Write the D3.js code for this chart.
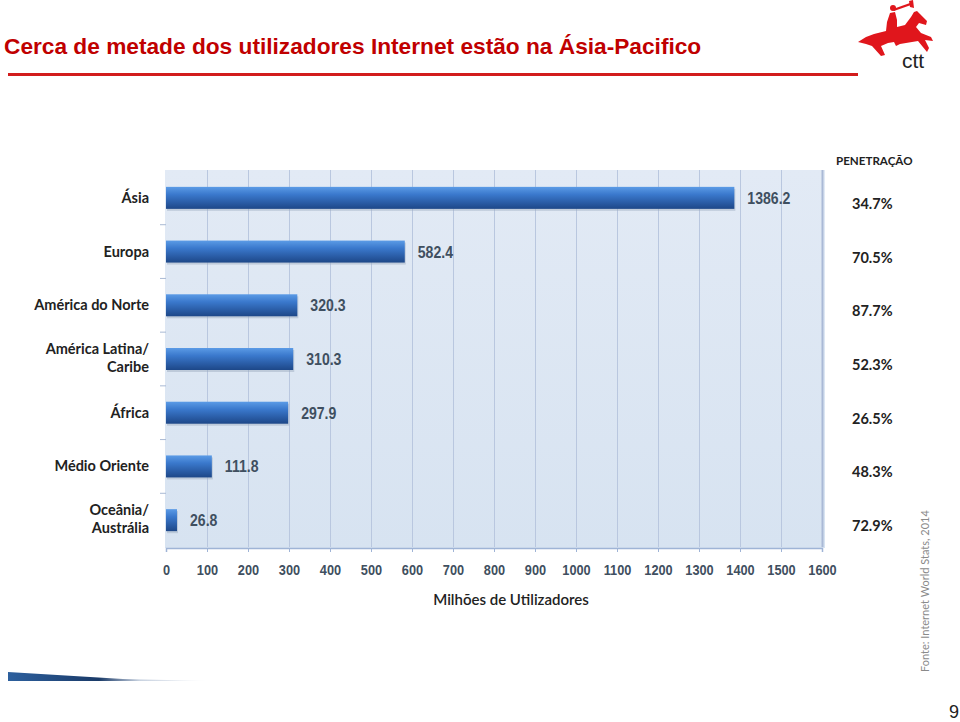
<!DOCTYPE html>
<html><head><meta charset="utf-8">
<script src="https://cdn.jsdelivr.net/npm/d3@7"></script>
<style>body{margin:0;background:#fff}svg{display:block}</style>
</head><body>
<svg id="c" width="960" height="722"></svg>
<script>
const categories = ["Ásia","Europa","América do Norte","América Latina/\nCaribe","África","Médio Oriente","Oceânia/\nAustrália"];
const users = [1386.2, 582.4, 320.3, 310.3, 297.9, 111.8, 26.8];
const penetration = ["34.7%","70.5%","87.7%","52.3%","26.5%","48.3%","72.9%"];
const xTicks = [0,100,200,300,400,500,600,700,800,900,1000,1100,1200,1300,1400,1500,1600];

(function(){
const svg = d3.select("#c");
const defs = svg.append("defs");
const g1 = defs.append("linearGradient").attr("id","bar").attr("x1",0).attr("y1",0).attr("x2",0).attr("y2",1);
g1.append("stop").attr("offset","0%").attr("stop-color","#5b9be6");
g1.append("stop").attr("offset","35%").attr("stop-color","#3a78cc");
g1.append("stop").attr("offset","100%").attr("stop-color","#1d4788");
const g2 = defs.append("linearGradient").attr("id","swoosh").attr("gradientUnits","userSpaceOnUse")
  .attr("x1",8).attr("y1",0).attr("x2",210).attr("y2",0);
g2.append("stop").attr("offset","0%").attr("stop-color","#2d609e");
g2.append("stop").attr("offset","45%").attr("stop-color","#1a3a68");
g2.append("stop").attr("offset","65%").attr("stop-color","#c8d2e0");
g2.append("stop").attr("offset","100%").attr("stop-color","#ffffff");
const g3 = defs.append("linearGradient").attr("id","bg").attr("x1",0).attr("y1",0).attr("x2",0).attr("y2",1);
g3.append("stop").attr("offset","0%").attr("stop-color","#e2eaf5");
g3.append("stop").attr("offset","100%").attr("stop-color","#d7e3f1");

// Title
svg.append("text").attr("x",4).attr("y",54).attr("fill","#c00000")
  .style("font-family","Liberation Sans, Arial, sans-serif").style("font-weight","bold").style("font-size","22.7px")
  .text("Cerca de metade dos utilizadores Internet estão na Ásia-Pacifico");
svg.append("rect").attr("x",8).attr("y",73).attr("width",850).attr("height",3).attr("fill","#d21c1c");

// Logo (simplified horse & rider)
const logo = svg.append("g").attr("fill","#e0161c");
logo.append("path").attr("d","M858,42 L866,37 L874,34 L886,31 L887,22 L890,13 L895,12 L897,20 L897,27 L905,25 L911,17 L914,12 L917,11 L920,14 L927,21 L926,25 L919,23 L916,27 L921,33 L931,37 L933,41 L925,40 L929,48 L927,52 L918,41 L912,42 L900,44 L896,46 L894,42 L888,43 L881,46 L885,55 L881,56 L872,46 L866,44 Z");
logo.append("circle").attr("cx",893).attr("cy",8).attr("r",3);
logo.append("path").attr("d","M893,9 L910,3 L911,5 L894,11 Z");
logo.append("path").attr("d","M909,1 L913,0 L914,8 L910,7 Z");
svg.append("text").attr("x",913).attr("y",68).attr("text-anchor","middle").attr("fill","#222")
  .style("font-family","Liberation Sans Narrow, Liberation Sans, Arial, sans-serif").style("font-size","21px").text("ctt");

// Chart
const pl = 166, pr = 822, pt = 171, pb = 547;
const x = d3.scaleLinear().domain([0,1600]).range([pl,pr]);
const y = d3.scaleBand().domain(categories).range([pt,pb]).paddingInner(0).paddingOuter(0);
const barH = 22;

svg.append("rect").attr("x",pl-1).attr("y",pt-1).attr("width",pr-pl+4).attr("height",pb-pt+2).attr("fill","url(#bg)");
svg.append("g").selectAll("line").data(xTicks.slice(1)).join("line")
  .attr("x1",d=>x(d)+0.5).attr("x2",d=>x(d)+0.5).attr("y1",pt-1).attr("y2",pb)
  .attr("stroke",d=>d===1600?"#aab9d6":"#b9c7df").attr("stroke-width",d=>d===1600?2:1);

// bottom axis
const xAxis = svg.append("g").attr("transform",`translate(0,${pb+1})`)
  .call(d3.axisBottom(x).tickValues(xTicks).tickSize(4).tickPadding(13).tickFormat(d3.format("d")));
xAxis.select(".domain").attr("stroke","#9fb4d6").attr("stroke-width",1.5);
xAxis.selectAll(".tick line").attr("stroke","#9fb4d6");
xAxis.selectAll("text").attr("fill","#3f4f60").attr("transform","scale(0.88,1)")
  .style("font-family","Liberation Sans, Arial, sans-serif").style("font-weight","bold").style("font-size","14.5px");

// left ticks at band boundaries
svg.append("g").selectAll("line").data(categories.slice(1)).join("line")
  .attr("x1",pl-6).attr("x2",pl).attr("y1",d=>y(d)).attr("y2",d=>y(d)).attr("stroke","#a9b9d4");

// bars
const bars = svg.append("g");
bars.selectAll("rect.sh").data(users).join("rect").attr("class","sh")
  .attr("x",pl+1).attr("y",(d,i)=>y(categories[i])+y.bandwidth()/2-barH/2+2).attr("height",barH)
  .attr("width",d=>x(d)-pl).attr("fill","#9aa8bd").attr("opacity",0.45);
bars.selectAll("rect.b").data(users).join("rect").attr("class","b")
  .attr("x",pl).attr("y",(d,i)=>y(categories[i])+y.bandwidth()/2-barH/2).attr("height",barH)
  .attr("width",d=>x(d)-pl).attr("fill","url(#bar)");

// value labels
svg.append("g").selectAll("text").data(users).join("text")
  .attr("transform",(d,i)=>`translate(${x(d)+13},${y(categories[i])+y.bandwidth()/2+6}) scale(0.88,1)`)
  .attr("fill","#3f4f60").style("font-family","Liberation Sans, Arial, sans-serif")
  .style("font-weight","bold").style("font-size","16px").text(d=>d3.format(".1f")(d));

// category labels
const cat = svg.append("g").selectAll("text").data(categories).join("text")
  .attr("text-anchor","end").attr("x",149)
  .attr("y",d=>{const n=d.split("\n").length; return y(d)+y.bandwidth()/2+5-(n-1)*9 - (n>1?1:0);})
  .attr("fill","#222").style("font-family","Lato, Open Sans, sans-serif").style("font-weight","bold").style("font-size","14.5px");
cat.each(function(d){
  const t=d3.select(this);
  d.split("\n").forEach((s,i)=>t.append("tspan").attr("x",149).attr("dy",i?18:0).text(s));
});

// penetration
svg.append("text").attr("x",836).attr("y",165).attr("fill","#222")
  .style("font-family","Lato, Open Sans, sans-serif").style("font-weight","bold").style("font-size","11.6px").text("PENETRAÇÃO");
svg.append("g").selectAll("text").data(penetration).join("text")
  .attr("x",852).attr("y",(d,i)=>y(categories[i])+y.bandwidth()/2+11)
  .attr("fill","#222").style("font-family","Lato, Open Sans, sans-serif").style("font-weight","bold").style("font-size","14.5px").text(d=>d);

// axis title
svg.append("text").attr("x",511).attr("y",605).attr("text-anchor","middle").attr("fill","#222")
  .style("font-family","Lato, Open Sans, sans-serif").style("font-weight","600").style("font-size","15px").text("Milhões de Utilizadores");

// source
svg.append("text").attr("transform","translate(929,672) rotate(-90)").attr("fill","#8a8a8a")
  .style("font-family","Lato, Open Sans, sans-serif").style("font-size","11px").text("Fonte: Internet World Stats, 2014");

// swoosh
svg.append("path").attr("d","M8,672 L8,681 L210,681 L123,679 Z").attr("fill","url(#swoosh)");

// page number
svg.append("text").attr("x",954).attr("y",718).attr("text-anchor","middle").attr("fill","#222")
  .style("font-family","Liberation Sans, Arial, sans-serif").style("font-size","18px").text("9");
})();
</script>
</body></html>
